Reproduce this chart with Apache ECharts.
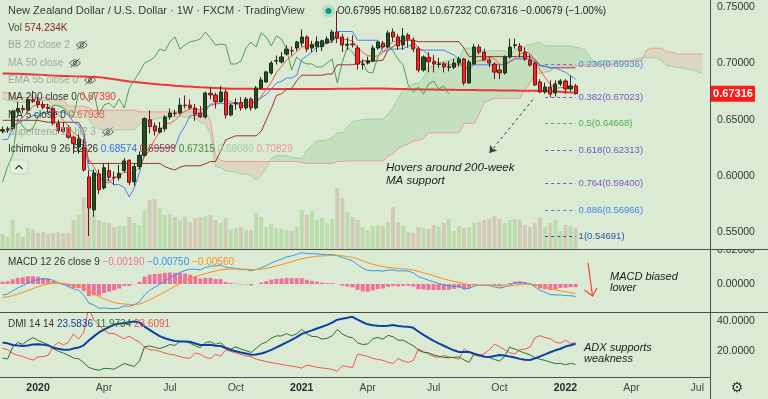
<!DOCTYPE html>
<html><head><meta charset="utf-8">
<script src="https://cdn.jsdelivr.net/npm/echarts@6/dist/echarts.min.js"></script>
<style>html,body{margin:0;padding:0;background:#dbebd3;}#c{width:768px;height:399px;}</style>
</head><body><div id="c"></div><script>
// ---------- data ----------
const startDate = '2019-11-18';
const totalSlots = 140;
// weekly history before the first visible bar (indicator warm-up only)
const priorHigh = [.7020,.6980,.6990,.7010,.7060,.7060,.6950,.6920,.6810,.6860,.6830,.6830,.6840,.6790,.6650,.6700,.6690,.6620,.6620,.6690,.6720,.6660,.6560,.6620,.6610,.6660,.6780,.6860,.6870,.6890,.6970,.6930,.6880,.6780,.6800,
.6870,.6850,.6840,.6940,.6860,.6910,.6880,.6900,.6840,.6850,.6940,.6900,.6810,.6790,.6760,.6720,.6720,.6650,.6610,.6540,.6560,.6660,.6640,.6620,.6720,.6720,.6700,.6790,.6770,.6720,.6610,.6480,.6450,.6410,.6440,.6450,.6420,.6320,.6330,.6340,.6390,.6420,.6450,.6430,.6400];
const priorLow = [.6910,.6880,.6900,.6910,.6960,.6920,.6840,.6750,.6730,.6740,.6690,.6770,.6740,.6600,.6550,.6600,.6590,.6500,.6530,.6570,.6600,.6470,.6424,.6510,.6500,.6470,.6620,.6690,.6780,.6740,.6800,.6800,.6720,.6680,.6583,
.6730,.6740,.6740,.6800,.6720,.6730,.6810,.6790,.6740,.6750,.6800,.6760,.6730,.6700,.6680,.6580,.6620,.6560,.6480,.6480,.6480,.6530,.6490,.6480,.6580,.6620,.6610,.6680,.6670,.6570,.6380,.6380,.6380,.6270,.6270,.6360,.6270,.6240,.6200,.6250,.6270,.6330,.6360,.6320,.6320];
const priorClose = [.6960,.6930,.6920,.6990,.7040,.6920,.6900,.6770,.6800,.6790,.6800,.6780,.6750,.6620,.6620,.6680,.6600,.6560,.6590,.6680,.6630,.6480,.6540,.6560,.6510,.6620,.6700,.6850,.6780,.6870,.6880,.6800,.6730,.6720,.6740,
.6820,.6760,.6830,.6840,.6760,.6880,.6840,.6800,.6770,.6830,.6880,.6810,.6750,.6750,.6690,.6660,.6620,.6590,.6510,.6520,.6550,.6630,.6490,.6600,.6710,.6650,.6690,.6770,.6680,.6580,.6450,.6420,.6400,.6290,.6420,.6410,.6270,.6260,.6330,.6330,.6370,.6370,.6420,.6340,.6400];

const opens = [.6400,.6412,.6420,.6575,.6600,.6590,.6675,.6665,.6635,.6610,
 .6600,.6465,.6430,.6430,.6345,.6258,.6250,.5993,.5700,.6020,
 .5895,.6050,.5990,.5985,.6050,.6140,.5950,.6085,.6185,.6500,
 .6445,.6390,.6420,.6525,.6560,.6560,.6630,.6630,.6604,.6560,
 .6525,.6735,.6720,.6660,.6746,.6542,.6640,.6650,.6605,.6684,
 .6605,.6782,.6835,.6915,.7020,.7013,.7083,.7112,.7136,.7180,
 .7234,.7136,.7148,.7148,.7180,.7207,.7278,.7234,.7160,.7172,
 .7136,.6990,.7003,.7020,.7136,.7180,.7145,.7278,.7234,.7163,
 .7252,.7207,.7128,.6941,.7050,.7015,.6990,.6995,.6965,.6965,
 .7003,.7039,.6826,.6994,.7145,.7100,.7030,.6994,.6941,.6915,
 .7057,.7160,.7154,.7100,.7030,.7003,.6835,.6746,.6790,.6737,
 .6817,.6844,.6773,.67995];
const highs = [.6440,.6440,.6590,.6660,.6630,.6700,.6756,.6700,.6665,.6640,
 .6610,.6500,.6480,.6450,.6360,.6380,.6330,.6050,.6060,.6060,
 .6110,.6120,.6040,.6100,.6160,.6150,.6115,.6220,.6520,.6584,
 .6475,.6480,.6540,.6600,.6590,.6690,.6715,.6680,.6640,.6620,
 .6750,.6790,.6740,.6800,.6770,.6640,.6690,.6700,.6700,.6700,
 .6800,.6880,.6935,.7020,.7070,.7100,.7160,.7150,.7200,.7300,
 .7250,.7200,.7240,.7210,.7240,.7300,.7465,.7260,.7230,.7250,
 .7160,.7035,.7060,.7160,.7200,.7200,.7290,.7310,.7260,.7315,
 .7270,.7230,.7150,.7070,.7100,.7075,.7050,.7010,.7020,.7040,
 .7060,.7050,.7030,.7170,.7170,.7130,.7060,.7010,.6990,.7070,
 .7220,.7220,.7180,.7140,.7080,.7015,.6860,.6830,.6850,.6850,
 .6860,.6860,.6890,.68182];
const lows = [.6380,.6385,.6410,.6555,.6560,.6580,.6650,.6605,.6590,.6565,
 .6450,.6380,.6385,.6330,.6200,.6200,.6040,.5469,.5640,.5840,
 .5880,.5955,.5920,.5960,.6030,.5920,.5915,.6060,.6175,.6380,
 .6360,.6380,.6395,.6500,.6530,.6545,.6600,.6590,.6490,.6515,
 .6510,.6680,.6600,.6650,.6510,.6530,.6590,.6580,.6590,.6580,
 .6590,.6770,.6830,.6900,.6990,.7000,.7070,.7070,.7110,.7150,
 .7100,.7100,.7100,.7110,.7170,.7190,.7180,.7100,.7120,.7140,
 .6945,.6945,.6990,.7010,.7120,.7130,.7130,.7195,.7120,.7120,
 .7140,.7100,.6920,.6925,.6920,.6920,.6960,.6920,.6930,.6950,
 .6970,.6805,.6820,.6990,.7080,.7030,.6965,.6860,.6860,.6900,
 .7040,.7130,.7050,.7020,.6970,.6800,.6736,.6730,.6701,.6705,
 .6800,.6730,.6750,.67232];
const closes = [.6412,.6420,.6575,.6600,.6590,.6675,.6665,.6635,.6610,.6600,
 .6470,.6405,.6395,.6345,.6290,.6330,.6055,.5717,.6028,.5880,
 .6075,.5990,.5985,.6025,.6135,.5945,.6085,.6185,.6510,.6440,
 .6400,.6425,.6525,.6560,.6555,.6630,.6625,.6605,.6550,.6525,
 .6737,.6720,.6660,.6746,.6542,.6630,.6650,.6605,.6684,.6605,
 .6782,.6853,.6924,.7003,.7025,.7057,.7127,.7110,.7190,.7234,
 .7127,.7165,.7192,.7200,.7216,.7278,.7225,.7163,.7170,.7165,
 .6994,.6995,.7020,.7136,.7190,.7145,.7270,.7234,.7154,.7243,
 .7216,.7127,.6941,.7057,.7015,.6995,.6995,.6968,.6970,.7003,
 .7039,.6826,.7012,.7145,.7100,.7030,.7003,.6923,.6915,.7057,
 .7145,.7165,.7110,.7038,.6985,.6808,.6746,.6790,.6728,.6817,
 .6844,.6773,.67995,.67316];
const volumesK = [410,328,793,437,328,574,519,437,465,410,
 437,465,437,437,793,930,1422,1285,930,793,
 738,711,601,629,629,875,711,656,1066,1340,
 1367,1121,930,957,875,793,875,738,848,875,
 902,930,793,711,848,519,574,601,519,519,
 984,875,601,684,574,547,519,492,601,1066,
 930,1039,793,848,711,820,1668,1394,1012,875,
 793,601,519,629,656,629,738,1148,738,629,
 465,437,601,574,547,656,601,711,820,492,
 629,574,601,711,738,793,820,902,820,711,
 793,820,793,656,601,711,875,601,711,793,
 492,656,629,574.234];
const ma200 = [.6911,.6910,.6908,.6907,.6905,.6903,.6901,.6899,.6897,.6894,
 .6892,.6891,.6889,.6887,.6886,.6884,.6883,.6881,.6880,.6878,
 .6872,.6866,.6860,.6853,.6846,.6839,.6835,.6831,.6827,.6822,
 .6818,.6813,.6810,.6806,.6802,.6799,.6796,.6794,.6791,.6788,
 .6786,.6784,.6782,.6780,.6778,.6776,.6775,.6775,.6774,.6774,
 .6773,.6773,.6773,.6773,.6773,.6773,.6773,.6773,.6773,.6773,
 .6773,.6773,.6773,.6773,.6773,.6773,.6774,.6775,.6775,.6776,
 .6776,.6777,.6777,.6777,.6777,.6777,.6776,.6775,.6773,.6772,
 .6771,.6770,.6770,.6769,.6768,.6768,.6767,.6766,.6766,.6765,
 .6764,.6764,.6763,.6763,.6762,.6762,.6761,.6761,.6760,.6760,
 .6759,.6759,.6758,.6758,.6757,.6757,.6756,.6755,.6752,.6750,
 .6748,.6745,.6742,.6739];
const fibRatios = ['0.236','0.382','0.5','0.618','0.764','0.886','1'];
const fibValues = [0.69936,0.67023,0.64668,0.62313,0.59400,0.56966,0.54691];
const fibColors = ['#4d7ee8','#7b52c9','#4caf50','#7b52c9','#7b52c9','#3d85f0','#2d4fa8'];
const timeTickIdx = [7,20,33,46,59,72,85,98,111,124,137];
const timeTickLabels = ['2020','Apr','Jul','Oct','2021','Apr','Jul','Oct','2022','Apr','Jul'];
const priceTicks = [0.55,0.60,0.65,0.70,0.75];
const macdTicks = [0,0.02];
const dmiTicks = [20,40];

// ---------- derived ----------
const FONT = "'Liberation Sans',Arial,sans-serif";
const P = priorClose.length, N = closes.length;
const H = priorHigh.concat(highs), L = priorLow.concat(lows), C = priorClose.concat(closes);
const cats = [];
{ const d0 = new Date(startDate + 'T00:00:00Z');
  for (let i = 0; i < totalSlots; i++) { const d = new Date(d0.getTime() + i * 7 * 86400000); cats.push(d.toISOString().slice(0,10)); } }
function donch(len, k) { let hh=-Infinity, ll=Infinity; for (let j=k-len+1;j<=k;j++){ if(j<0) continue; hh=Math.max(hh,H[j]); ll=Math.min(ll,L[j]); } return (hh+ll)/2; }
const tenkan = [], kijun = [], spanA = [], spanB = [], chikou = [], ma5 = [];
for (let i=0;i<totalSlots;i++){
  if (i<N){ tenkan.push(donch(9,P+i)); kijun.push(donch(26,P+i));
    let s=0; for(let j=0;j<5;j++) s+=C[P+i-j]; ma5.push(s/5);
    chikou.push(i+25<N ? closes[i+25] : null);
  } else { tenkan.push(null); kijun.push(null); ma5.push(null); chikou.push(null); }
  const k = P+i-25;
  if (k>=0 && k<=P+N-1){ spanA.push((donch(9,k)+donch(26,k))/2); spanB.push(donch(52,k)); }
  else { spanA.push(null); spanB.push(null); }
}
function ema(arr,len){ const a=2/(len+1); const out=[]; let prev=arr[0]; for(let i=0;i<arr.length;i++){ prev = i===0?arr[0]:a*arr[i]+(1-a)*prev; out.push(prev);} return out; }
const e12=ema(C,12), e26=ema(C,26);
const macdFull = e12.map((v,i)=>v-e26[i]);
const sigFull = ema(macdFull,9);
const macd = macdFull.slice(P), signal = sigFull.slice(P), hist = macd.map((v,i)=>v-signal[i]);
function rma(src,len){ const out=new Array(src.length).fill(null); let sum=0,cnt=0,prev=null;
  for(let i=0;i<src.length;i++){ const v=src[i]; if(v==null||isNaN(v)) continue;
    if(prev===null){ sum+=v; cnt++; if(cnt===len){ prev=sum/len; out[i]=prev; } }
    else { prev=(prev*(len-1)+v)/len; out[i]=prev; } }
  return out; }
const pDM=[null], mDM=[null], TR=[null];
for (let k=1;k<C.length;k++){ const up=H[k]-H[k-1], dn=L[k-1]-L[k];
  pDM.push(up>dn&&up>0?up:0); mDM.push(dn>up&&dn>0?dn:0);
  TR.push(Math.max(H[k]-L[k], Math.abs(H[k]-C[k-1]), Math.abs(L[k]-C[k-1]))); }
const trR=rma(TR,14), pR=rma(pDM,14), mR=rma(mDM,14);
const plusDI = trR.map((t,i)=>t==null?null:100*pR[i]/t);
const minusDI = trR.map((t,i)=>t==null?null:100*mR[i]/t);
const dx = plusDI.map((p,i)=>p==null?null:Math.abs(p-minusDI[i])/((p+minusDI[i])||1));
const adx = rma(dx,14).map(v=>v==null?null:100*v);
const adxV = adx.slice(P), pDIV = plusDI.slice(P), mDIV = minusDI.slice(P);

const candleData = opens.map((o,i)=>[o,closes[i],lows[i],highs[i]]);
const volData = volumesK.map((v,i)=>({value:v,itemStyle:{color: closes[i]>=opens[i] ? '#bcdcae' : '#cfcbb7'}}));
const cloudData = [];
for (let i=0;i<totalSlots-1;i++){ if(spanA[i]!=null && spanA[i+1]!=null) cloudData.push([i,spanA[i],spanB[i],spanA[i+1],spanB[i+1]]); }
const tickMap = {}; timeTickIdx.forEach((t,j)=>tickMap[t]=timeTickLabels[j]);

// ---------- chart ----------
const chart = echarts.init(document.getElementById('c'), null, {renderer:'canvas'});
const GRID_R = 58;
const xBase = { type:'category', data:cats, boundaryGap:true, axisLine:{show:false}, axisTick:{show:false}, splitLine:{show:false}, axisLabel:{show:false} };
const GREEN_CLOUD='rgba(67,160,71,0.14)', RED_CLOUD='rgba(239,83,80,0.13)';
const fibLines = fibValues.map((v,j)=>[
  {coord:[cats[107],v], lineStyle:{color:fibColors[j],type:[3,3],width:1},
   label:{show:true,position:'end',distance:3,formatter:fibRatios[j]+'('+v.toFixed(5)+')',color:fibColors[j],fontSize:9.5,fontFamily:FONT}},
  {coord:[cats[113],v]}]);
fibLines.push([{coord:[cats[96],0.6205], symbol:'arrow', symbolSize:7, lineStyle:{color:'#3d3d3d',type:[3,3],width:1}, label:{show:false}},
  {coord:[cats[105],0.6702], symbol:'none'}]);

const option = {
  animation:false,
  backgroundColor:'#dbebd3',
  grid:[
    {left:0,right:GRID_R,top:0,height:249},
    {left:0,right:GRID_R,top:250,height:62},
    {left:0,right:GRID_R,top:313,height:64}
  ],
  xAxis:[
    Object.assign({gridIndex:0},xBase),
    Object.assign({gridIndex:1},xBase),
    Object.assign({},xBase,{gridIndex:2, axisLabel:{show:true, interval:(i)=>tickMap[i]!==undefined,
      formatter:(v,i)=>{ const t=tickMap[i]; return /^\d{4}$/.test(t)?'{y|'+t+'}':'{m|'+t+'}'; },
      margin:6,
      rich:{y:{fontFamily:FONT,fontSize:10.5,fontWeight:'bold',color:'#2a2a2a'}, m:{fontFamily:FONT,fontSize:10.5,color:'#444'}}}})
  ],
  yAxis:[
    {gridIndex:0,type:'value',position:'right',min:0.53537,max:0.75621,splitLine:{show:false},axisLine:{show:false},axisTick:{show:false},
     axisLabel:{customValues:priceTicks,formatter:v=>v.toFixed(5),color:'#333',fontSize:10.5,fontFamily:FONT,margin:7}},
    {gridIndex:0,type:'value',min:0,max:6809,show:false},
    {gridIndex:1,type:'value',position:'right',min:-0.016471,max:0.02,splitLine:{show:false},axisLine:{show:false},axisTick:{show:false},
     axisLabel:{customValues:macdTicks,formatter:v=>v.toFixed(5),color:'#333',fontSize:10.5,fontFamily:FONT,margin:7}},
    {gridIndex:2,type:'value',position:'right',min:3,max:45.67,splitLine:{show:false},axisLine:{show:false},axisTick:{show:false},
     axisLabel:{customValues:dmiTicks,formatter:v=>v.toFixed(4),color:'#333',fontSize:10.5,fontFamily:FONT,margin:7}}
  ],
  series:[
    {type:'custom', xAxisIndex:0, yAxisIndex:0, z:1, clip:true, data:cloudData, encode:{x:0,y:1},
     renderItem:function(params,api){
       const i=api.value(0), a0=api.value(1), b0=api.value(2), a1=api.value(3), b1=api.value(4);
       const pa0=api.coord([i,a0]), pb0=api.coord([i,b0]), pa1=api.coord([i+1,a1]), pb1=api.coord([i+1,b1]);
       const d0=a0-b0, d1=a1-b1;
       if (d0*d1>=0) return {type:'polygon',shape:{points:[pa0,pa1,pb1,pb0]},style:{fill:(d0+d1)>=0?GREEN_CLOUD:RED_CLOUD}};
       const t=d0/(d0-d1); const pm=[pa0[0]+(pa1[0]-pa0[0])*t, pa0[1]+(pa1[1]-pa0[1])*t];
       return {type:'group',children:[
         {type:'polygon',shape:{points:[pa0,pm,pb0]},style:{fill:d0>0?GREEN_CLOUD:RED_CLOUD}},
         {type:'polygon',shape:{points:[pm,pa1,pb1]},style:{fill:d1>0?GREEN_CLOUD:RED_CLOUD}}]};
     }},
    {type:'bar', xAxisIndex:0, yAxisIndex:1, data:volData, barWidth:'78%', z:2},
    {type:'line', xAxisIndex:0, yAxisIndex:0, data:spanA, symbol:'none', lineStyle:{color:'#9fd19f',width:1}, z:3},
    {type:'line', xAxisIndex:0, yAxisIndex:0, data:spanB, symbol:'none', lineStyle:{color:'#ef9a9a',width:1}, z:3},
    {type:'line', xAxisIndex:0, yAxisIndex:0, data:ma200, symbol:'none', lineStyle:{color:'#f2333a',width:2}, z:4},
    {type:'line', xAxisIndex:0, yAxisIndex:0, data:chikou, symbol:'none', lineStyle:{color:'#4e9f4e',width:1}, z:4},
    {type:'line', xAxisIndex:0, yAxisIndex:0, data:kijun, symbol:'none', lineStyle:{color:'#a33030',width:1}, z:4},
    {type:'line', xAxisIndex:0, yAxisIndex:0, data:tenkan, symbol:'none', lineStyle:{color:'#4a7ff0',width:1}, z:4},
    {type:'line', xAxisIndex:0, yAxisIndex:0, data:ma5, symbol:'none', lineStyle:{color:'#f0554f',width:1}, z:4},
    {type:'candlestick', xAxisIndex:0, yAxisIndex:0, data:candleData, barWidth:'72%', z:5,
     itemStyle:{color:'#24501f',color0:'#ff1f1f',borderColor:'#1c2e1a',borderColor0:'#6b1a1a',borderWidth:1},
     markLine:{silent:true, symbol:['none','none'], animation:false, data:fibLines}},
    {type:'bar', xAxisIndex:1, yAxisIndex:2, data:hist, barWidth:'78%', itemStyle:{color:'#f0709a'}, z:2},
    {type:'line', xAxisIndex:1, yAxisIndex:2, data:macd, symbol:'none', lineStyle:{color:'#2c9af0',width:1}, z:3},
    {type:'line', xAxisIndex:1, yAxisIndex:2, data:signal, symbol:'none', lineStyle:{color:'#ff8c1a',width:1}, z:3},
    {type:'line', xAxisIndex:2, yAxisIndex:3, data:mDIV, symbol:'none', lineStyle:{color:'#f0554f',width:1}, z:3},
    {type:'line', xAxisIndex:2, yAxisIndex:3, data:pDIV, symbol:'none', lineStyle:{color:'#2f6f2f',width:1}, z:3},
    {type:'line', xAxisIndex:2, yAxisIndex:3, data:adxV, symbol:'none', lineStyle:{color:'#0f3fa6',width:2}, z:4}
  ]
};
chart.setOption(option);

// ---------- overlay texts / frames ----------
const LSIZE = 10;
const mctx = document.createElement('canvas').getContext('2d');
function tw(t,size){ mctx.font = size+'px '+FONT; return mctx.measureText(t).width; }
function rtext(x,y,parts,size){ // parts: [[text,color],...]
  const rich={}; let s='';
  parts.forEach((p,j)=>{ rich['p'+j]={fill:p[1],fontFamily:FONT,fontSize:size}; s+='{p'+j+'|'+p[0]+'}'; });
  return {type:'text',x:x,y:y,z:100,style:{text:s,rich:rich,fontFamily:FONT,fontSize:size,verticalAlign:'middle'}};
}
function eye(cx,cy){ const c='#5a5a5a';
  return {type:'group',z:100,children:[
    {type:'bezierCurve',shape:{x1:cx-5.5,y1:cy,cpx1:cx,cpy1:cy-6.5,x2:cx+5.5,y2:cy},style:{stroke:c,fill:null,lineWidth:1}},
    {type:'bezierCurve',shape:{x1:cx-5.5,y1:cy,cpx1:cx,cpy1:cy+6.5,x2:cx+5.5,y2:cy},style:{stroke:c,fill:null,lineWidth:1}},
    {type:'circle',shape:{cx:cx,cy:cy,r:1.7},style:{stroke:c,fill:null,lineWidth:1}},
    {type:'line',shape:{x1:cx-4.5,y1:cy+4.5,x2:cx+4.5,y2:cy-4.5},style:{stroke:c,lineWidth:1}}]};
}
const gray='#9fa99c', dark='#333';
function mutedRow(y,t){ return [rtext(8,y,[[t,gray]],LSIZE), eye(8+tw(t,LSIZE)+12,y)]; }
const lastY = chart.convertToPixel({yAxisIndex:0}, closes[N-1]);
const graphics = [
  // pane frames
  {type:'line',z:90,shape:{x1:710.5,y1:0,x2:710.5,y2:399},style:{stroke:'#4d4d4d',lineWidth:1}},
  {type:'rect',z:95,shape:{x:711,y:240,width:57,height:9.5},style:{fill:'#dbebd3'}},
  {type:'line',z:96,shape:{x1:0,y1:249.5,x2:768,y2:249.5},style:{stroke:'#4d4d4d',lineWidth:1}},
  {type:'line',z:96,shape:{x1:0,y1:312.5,x2:768,y2:312.5},style:{stroke:'#4d4d4d',lineWidth:1}},
  {type:'line',z:96,shape:{x1:0,y1:377.5,x2:710,y2:377.5},style:{stroke:'#4d4d4d',lineWidth:1}},
  // header
  rtext(8,11,[['New Zealand Dollar / U.S. Dollar · 1W · FXCM · TradingView','#3a3a3a']],11),
  {type:'circle',z:100,shape:{cx:328.5,cy:11,r:6.5},style:{fill:'rgba(8,153,129,0.18)'}},
  {type:'circle',z:101,shape:{cx:328.5,cy:11,r:3},style:{fill:'#089981'}},
  rtext(337,11,[['O','#333'],['0.67995 ','#222'],['H','#333'],['0.68182 ','#222'],['L','#333'],['0.67232 ','#222'],['C','#333'],['0.67316 ','#222'],['−0.00679 (−1.00%)','#222']],10),
  // legend rows
  rtext(8,28,[['Vol ','#444'],['574.234K','#8c2323']],LSIZE),
  ...mutedRow(45,'BB 20 close 2'),
  ...mutedRow(63,'MA 50 close'),
  ...mutedRow(80,'EMA 55 close 0'),
  rtext(8,97,[['MA 200 close 0 ',dark],['0.67390','#f2333a']],LSIZE),
  rtext(8,115,[['MA 5 close 0 ',dark],['0.67933','#f0554f']],LSIZE),
  ...mutedRow(132,'Supertrend 10 hl2 3'),
  rtext(8,149,[['Ichimoku 9 26 52 26 ',dark],['0.68574 ','#2f6fe8'],['0.69599 ','#a33030'],['0.67315 ','#3f8f3f'],['0.69086 ','#9fd19f'],['0.70829','#ef9a9a']],LSIZE),
  {type:'rect',z:100,shape:{x:10,y:160,width:18,height:14,r:3},style:{fill:'rgba(255,255,255,0.25)',stroke:'#c6d6bf',lineWidth:1}},
  {type:'polyline',z:101,shape:{points:[[15.5,169],[19,165.5],[22.5,169]]},style:{stroke:'#333',fill:null,lineWidth:1.2}},
  rtext(8,262,[['MACD 12 26 close 9 ',dark],['−0.00190 ','#f0709a'],['−0.00750 ','#2c9af0'],['−0.00560','#ff8c1a']],LSIZE),
  rtext(8,324,[['DMI 14 14 ',dark],['23.5836 ','#0f3fa6'],['11.9734 ','#2f6f2f'],['23.6091','#f0554f']],LSIZE),
  // annotations
  {type:'text',z:100,x:386,y:162,style:{text:'Hovers around 200-week\nMA support',fontFamily:FONT,fontSize:11.5,fontStyle:'italic',fill:'#1a1a1a',lineHeight:12.5}},
  {type:'text',z:100,x:610,y:271,style:{text:'MACD biased\nlower',fontFamily:FONT,fontSize:11,fontStyle:'italic',fill:'#1a1a1a',lineHeight:11.5}},
  {type:'text',z:100,x:584,y:342,style:{text:'ADX supports\nweakness',fontFamily:FONT,fontSize:11,fontStyle:'italic',fill:'#1a1a1a',lineHeight:11.5}},
  {type:'line',z:100,shape:{x1:588,y1:263,x2:592.5,y2:296},style:{stroke:'#f44336',lineWidth:1.2}},
  {type:'polyline',z:100,shape:{points:[[584.5,290],[592.5,296],[597,288]]},style:{stroke:'#f44336',fill:null,lineWidth:1.2}},
  // last price tag
  {type:'rect',z:100,shape:{x:711,y:lastY-8,width:44,height:16},style:{fill:'#ff1a1a'}},
  {type:'text',z:101,x:733,y:lastY,style:{text:closes[N-1].toFixed(5),fill:'#fff',fontFamily:FONT,fontSize:11,fontWeight:'bold',align:'center',verticalAlign:'middle'}},
  // settings gear
  {type:'text',z:100,x:737,y:388,style:{text:'⚙',fill:'#333',fontFamily:'DejaVu Sans',fontSize:14,align:'center',verticalAlign:'middle'}}
];
chart.setOption({graphic:graphics});
</script></body></html>
